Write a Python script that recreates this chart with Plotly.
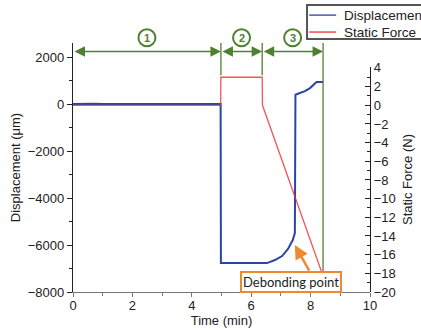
import plotly.graph_objects as go

# Displacement (µm) vs time (min)
disp_t = [0, 0.3, 0.7, 1.0, 2.0, 3.0, 4.0, 4.97, 4.98, 5.5, 6.0, 6.53, 6.8, 7.04, 7.24, 7.4, 7.47,
          7.49, 7.64, 7.81, 7.98, 8.11, 8.2, 8.42]
disp_v = [0, 20, 15, 0, 0, 0, 0, 0, -6770, -6780, -6780, -6770, -6640, -6470, -6170, -5790, -5490,
          395, 470, 550, 680, 850, 940, 940]

# Static force (N) vs time (min)
force_t = [0, 4.97, 4.98, 6.37, 6.38, 8.61]
force_v = [0, 0, 3.0, 3.0, 0, -20]

# Stage boundaries (min) and labels
stage_edges = [0, 4.98, 6.37, 8.42]
stage_labels = ["1", "2", "3"]

series_names = ["Displacement", "Static Force"]

GREEN = "#4f8030"
ORANGE = "#ee8a2e"
BLUE = "#2a44a8"
RED = "rgba(238,45,45,0.8)"
FONT = "Liberation Sans"

fig = go.Figure()
fig.add_trace(go.Scatter(x=disp_t, y=disp_v, mode="lines", name=series_names[0],
                         line=dict(color=BLUE, width=2), yaxis="y", showlegend=False))
fig.add_trace(go.Scatter(x=force_t, y=force_v, mode="lines", name=series_names[1],
                         line=dict(color=RED, width=1.3), yaxis="y2", showlegend=False))

shapes = []
annotations = []
# vertical stage lines
line_bottoms = [None, 1230, 1230, -7190]
for e, b in zip(stage_edges, line_bottoms):
    if b is None:
        continue
    shapes.append(dict(type="line", xref="x", yref="y", x0=e, x1=e, y0=2600, y1=b,
                       line=dict(color=GREEN, width=1.3)))
for i, lab in enumerate(stage_labels):
    cx = (stage_edges[i] + stage_edges[i + 1]) / 2
    shapes.append(dict(type="circle", xref="x", yref="paper", xsizemode="pixel", ysizemode="pixel",
                       xanchor=cx, yanchor=1.021, x0=-8.5, x1=8.5, y0=-8.5, y1=8.5,
                       line=dict(color=GREEN, width=2)))
    annotations.append(dict(x=cx, y=1.021, xref="x", yref="paper", text="<b>" + lab + "</b>",
                            xanchor="center", yanchor="middle",
                            showarrow=False, font=dict(family=FONT, size=11, color=GREEN)))
    annotations.append(dict(x=stage_edges[i + 1], y=0.966, xref="x", yref="paper",
                            ax=stage_edges[i], ay=0, axref="x", ayref="pixel", text="",
                            showarrow=True, arrowside="end+start", arrowhead=2, startarrowhead=2,
                            arrowsize=1.4, startarrowsize=1.4, arrowwidth=1.5, arrowcolor=GREEN,
                            standoff=0, startstandoff=0))

# debonding arrow and label
annotations.append(dict(x=7.47, y=-6000, xref="x", yref="y", ax=7.98, ay=-7150, axref="x", ayref="y",
                        text="", showarrow=True, arrowhead=2, arrowsize=1.1, arrowwidth=2.5,
                        arrowcolor=ORANGE, standoff=0))
annotations.append(dict(x=7.34, y=-7560, xref="x", yref="y", text="Debonding point", showarrow=False,
                        font=dict(family="Lato", size=13, color="#222"), bgcolor="white",
                        bordercolor=ORANGE, borderwidth=2, borderpad=1))

# legend box (drawn manually, runs off the right edge like the reference)
shapes.append(dict(type="rect", xref="paper", yref="paper", x0=0.788, x1=1.185, y0=1.016, y1=1.153,
                   fillcolor="white", line=dict(color="#555", width=2), layer="above"))
leg_y = [1.112, 1.044]
leg_col = [BLUE, "rgb(238,45,45)"]
for name, yy, c in zip(series_names, leg_y, leg_col):
    shapes.append(dict(type="line", xref="paper", yref="paper", x0=0.795, x1=0.886, y0=yy, y1=yy,
                       line=dict(color=c, width=1.3), layer="above"))
    annotations.append(dict(x=0.907, y=yy, xref="paper", yref="paper", text=name, showarrow=False,
                            xanchor="left", yanchor="middle",
                            font=dict(family=FONT, size=13.5, color="#222")))

fig.update_layout(
    width=421, height=330,
    margin=dict(l=73, r=51, t=43, b=38, autoexpand=False),
    paper_bgcolor="white", plot_bgcolor="rgba(0,0,0,0)",
    font=dict(family=FONT, size=13, color="#222"),
    showlegend=False,
    xaxis=dict(range=[0, 10], dtick=2, tick0=0, showgrid=False, zeroline=False,
               showline=True, linecolor="#777", linewidth=1.3, ticks="outside", ticklen=4,
               ticklabelstandoff=-3,
               tickcolor="#777", minor=dict(dtick=1, ticks="outside", ticklen=3, tickcolor="#777"),
               title=dict(text="Time (min)", standoff=0, font=dict(size=13)),
               anchor="y"),
    yaxis=dict(range=[-8000, 2600], dtick=2000, tick0=0, showgrid=False, zeroline=False,
               showline=True, linecolor="#222", linewidth=1.3, ticks="outside", ticklen=5,
               tickcolor="#222", minor=dict(dtick=1000, ticks="outside", ticklen=3, tickcolor="#222"),
               title=dict(text="Displacement (μm)", standoff=4, font=dict(size=13)),
               domain=[0, 1], anchor="x"),
    yaxis2=dict(range=[-20, 4.1], dtick=2, tick0=0, showgrid=False, zeroline=False,
                showline=True, linecolor="#222", linewidth=1.3, ticks="inside", ticklen=5,
                tickcolor="#222", minor=dict(dtick=1, ticks="inside", ticklen=3, tickcolor="#222"),
                title=dict(text="Static Force (N)", standoff=8, font=dict(size=13)),
                side="right", anchor="x", domain=[0, 0.9036]),
    shapes=shapes,
    annotations=annotations,
)

fig.write_html("out.html", config={"displayModeBar": False},
               post_script="document.body.style.margin='0';document.body.style.padding='0';")
